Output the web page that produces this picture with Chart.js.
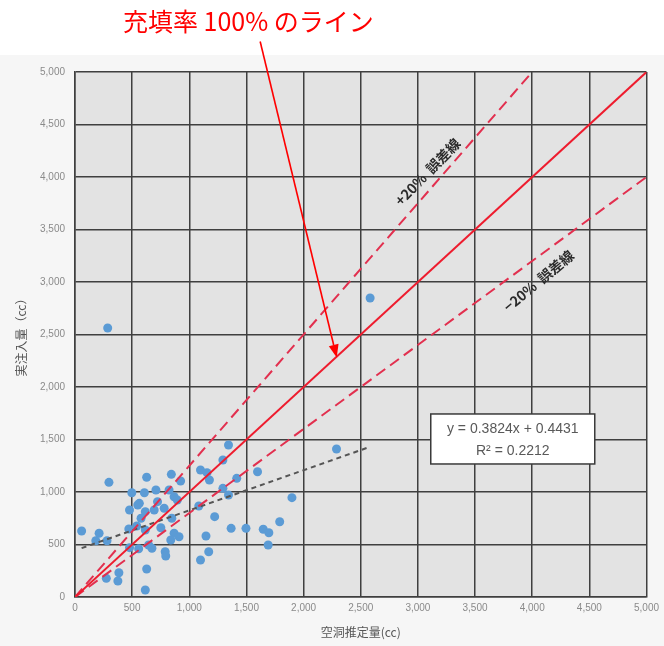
<!DOCTYPE html>
<html>
<head>
<meta charset="utf-8">
<script src="https://cdn.jsdelivr.net/npm/chart.js@4.4.1/dist/chart.umd.min.js"></script>
<style>
  html, body { margin: 0; padding: 0; background: #ffffff; }
  #wrap { width: 664px; height: 646px; }
</style>
</head>
<body>
<div id="wrap"><canvas id="c" width="664" height="646"></canvas></div>
<script>
// 空洞推定量 (cc) — estimated void volume per hole
const estVolume = [
  297, 627, 843, 924, 497, 607, 708, 823, 867, 895, 563, 549, 477, 722, 693, 780, 615, 578, 847,
  58, 211, 182, 280, 471, 540, 615, 751, 867, 910, 477, 557, 644, 673, 789, 794, 627, 615, 384,
  375, 274, 838,
  1343, 1294, 1098, 1155, 1176, 1597, 1415, 1294, 1343, 1083, 1222, 1366, 1496, 1647, 1696, 1791,
  1898, 1690, 1146, 1170, 1098,
  286, 2582, 2288
];
// 実注入量 (cc) — actual injected volume per hole
const injVolume = [
  1092, 1140, 1168, 1105, 993, 993, 1019, 1019, 955, 924, 892, 876, 829, 908, 829, 845, 813, 750, 750,
  629, 607, 536, 536, 648, 676, 638, 660, 607, 574, 470, 460, 495, 464, 431, 390, 267, 67, 231,
  152, 178, 543,
  1448, 1305, 1210, 1184, 1114, 1193, 1130, 1035, 971, 867, 765, 654, 654, 645, 612, 717,
  946, 495, 581, 431, 352,
  2562, 2848, 1410
];

// reference lines: 100% fill, +20% / -20% error bands
const line100 = [{ x: 0, y: 0 }, { x: 5000, y: 5000 }];
const linePlus20 = [{ x: 0, y: 0 }, { x: 4000, y: 5000 }];
const lineMinus20 = [{ x: 0, y: 0 }, { x: 5000, y: 4000 }];

// linear trend (coefficients in litres)
const trendSlope = 0.3824;
const trendInterceptL = 0.4431;
const trendText = ['y = 0.3824x + 0.4431', 'R² = 0.2212'];

const xTickLabels = ['0', '500', '1,000', '1,500', '2,000', '2,500', '3,000', '3,500', '4,000', '4,500', '5,000'];
const yTickLabels = ['0', '500', '1,000', '1,500', '2,000', '2,500', '3,000', '3,500', '4,000', '4,500', '5,000'];

const titleText = '充填率 100% のライン';
const plusLabel = '+20%  誤差線';
const minusLabel = '−20%  誤差線';

const points = estVolume.map((x, i) => ({ x: x, y: injVolume[i] }));
const xMin = Math.min(...estVolume);
const xMax = Math.max(...estVolume);
const trendY = x => trendSlope * x + trendInterceptL * 1000;
const trendLine = [{ x: xMin, y: trendY(xMin) }, { x: xMax, y: trendY(xMax) }];

const RED = '#ee1c2e';
const RED_DASH = '#e2304f';
const GRID = '#3f3f3f';

const decor = {
  id: 'decor',
  beforeDraw(chart) {
    const { ctx, chartArea: a, width, height } = chart;
    ctx.save();
    ctx.fillStyle = '#ffffff';
    ctx.fillRect(0, 0, width, height);
    ctx.fillStyle = '#f6f6f6';
    ctx.fillRect(0, 55, width, height - 55);
    ctx.fillStyle = '#e3e3e3';
    ctx.fillRect(a.left, a.top, a.right - a.left, a.bottom - a.top);
    ctx.restore();
  },
  afterDatasetsDraw(chart) {
    const { ctx } = chart;
    const sx = chart.scales.x, sy = chart.scales.y;
    const px = v => sx.getPixelForValue(v);
    const py = v => sy.getPixelForValue(v);
    ctx.save();

    // rotated band labels
    ctx.fillStyle = '#2b2b2b';
    ctx.font = 'bold 14px "Noto Sans CJK JP", sans-serif';
    ctx.textAlign = 'center';
    ctx.textBaseline = 'middle';
    ctx.save();
    ctx.translate(px(3085), py(4048));
    ctx.rotate(-46 * Math.PI / 180);
    ctx.fillText(plusLabel, 0, 0);
    ctx.restore();
    ctx.save();
    ctx.translate(px(4056), py(3010));
    ctx.rotate(-40 * Math.PI / 180);
    ctx.fillText(minusLabel, 0, 0);
    ctx.restore();

    // trend equation box
    const bx = px(3830), by = py(1505);
    const bw = 164, bh = 50;
    ctx.fillStyle = '#ffffff';
    ctx.fillRect(bx - bw / 2, by - bh / 2, bw, bh);
    ctx.strokeStyle = '#3a3a3a';
    ctx.lineWidth = 1.5;
    ctx.strokeRect(bx - bw / 2, by - bh / 2, bw, bh);
    ctx.fillStyle = '#595959';
    ctx.font = '14px "Liberation Sans", Arial, sans-serif';
    ctx.fillText(trendText[0], bx, by - 10);
    ctx.fillText(trendText[1], bx, by + 12);

    // title and pointer arrow
    ctx.fillStyle = '#ff0000';
    ctx.font = '25px "Noto Sans CJK JP", sans-serif';
    ctx.textAlign = 'left';
    ctx.textBaseline = 'middle';
    ctx.fillText(titleText, 123, 21);

    const x0 = px(1620), y0 = py(5290);
    const x1 = px(2290), y1 = py(2280);
    const ang = Math.atan2(y1 - y0, x1 - x0);
    const headL = 13, headW = 5;
    ctx.strokeStyle = '#ff0000';
    ctx.lineWidth = 1.6;
    ctx.beginPath();
    ctx.moveTo(x0, y0);
    ctx.lineTo(x1 - headL * Math.cos(ang), y1 - headL * Math.sin(ang));
    ctx.stroke();
    ctx.beginPath();
    ctx.moveTo(x1, y1);
    ctx.lineTo(x1 - headL * Math.cos(ang) + headW * Math.sin(ang), y1 - headL * Math.sin(ang) - headW * Math.cos(ang));
    ctx.lineTo(x1 - headL * Math.cos(ang) - headW * Math.sin(ang), y1 - headL * Math.sin(ang) + headW * Math.cos(ang));
    ctx.closePath();
    ctx.fill();

    ctx.restore();
  }
};

const lineDs = (label, data, color, dash, width) => ({
  type: 'line', label, data, borderColor: color, borderWidth: width,
  borderDash: dash, pointRadius: 0, fill: false, tension: 0
});

new Chart(document.getElementById('c'), {
  type: 'scatter',
  data: {
    datasets: [
      lineDs('100%', line100, RED, [], 2),
      lineDs('+20%', linePlus20, RED_DASH, [11, 6], 2),
      lineDs('-20%', lineMinus20, RED_DASH, [11, 6], 2),
      lineDs('trend', trendLine, '#555555', [5, 4], 2),
      {
        label: '実測', data: points,
        backgroundColor: '#5b9bd5', borderColor: '#5b9bd5', borderWidth: 0,
        pointRadius: 4.5, pointHoverRadius: 4.5
      }
    ]
  },
  options: {
    responsive: false,
    devicePixelRatio: 1,
    animation: false,
    layout: { padding: { top: 72, right: 12, left: 0, bottom: 0 } },
    plugins: { legend: { display: false }, tooltip: { enabled: false } },
    scales: {
      x: {
        type: 'linear', min: 0, max: 5000,
        ticks: {
          stepSize: 500, padding: 5, maxRotation: 0, autoSkip: false,
          color: '#8a8a8a', font: { family: '"Liberation Sans", Arial, sans-serif', size: 10 },
          callback: (v, i) => xTickLabels[i]
        },
        grid: { color: GRID, lineWidth: 1.5, drawTicks: false },
        border: { display: true, color: GRID, width: 1.5 },
        title: {
          display: true, text: '空洞推定量(cc)', color: '#555555',
          font: { family: '"Noto Sans CJK JP", sans-serif', size: 12 },
          padding: { top: 0, bottom: 6 }
        },
        afterFit: s => { s.height = 49; }
      },
      y: {
        type: 'linear', min: 0, max: 5000,
        ticks: {
          stepSize: 500, padding: 10, autoSkip: false,
          color: '#8a8a8a', font: { family: '"Liberation Sans", Arial, sans-serif', size: 10 },
          callback: (v, i) => yTickLabels[i]
        },
        grid: { color: GRID, lineWidth: 1.5, drawTicks: false },
        border: { display: true, color: GRID, width: 1.5 },
        title: {
          display: true, text: '実注入量（cc）', color: '#555555',
          font: { family: '"Noto Sans CJK JP", sans-serif', size: 12 },
          padding: { top: 14, bottom: 0 }
        },
        afterFit: s => { s.width = 75; }
      }
    }
  },
  plugins: [decor]
});
</script>
</body>
</html>
